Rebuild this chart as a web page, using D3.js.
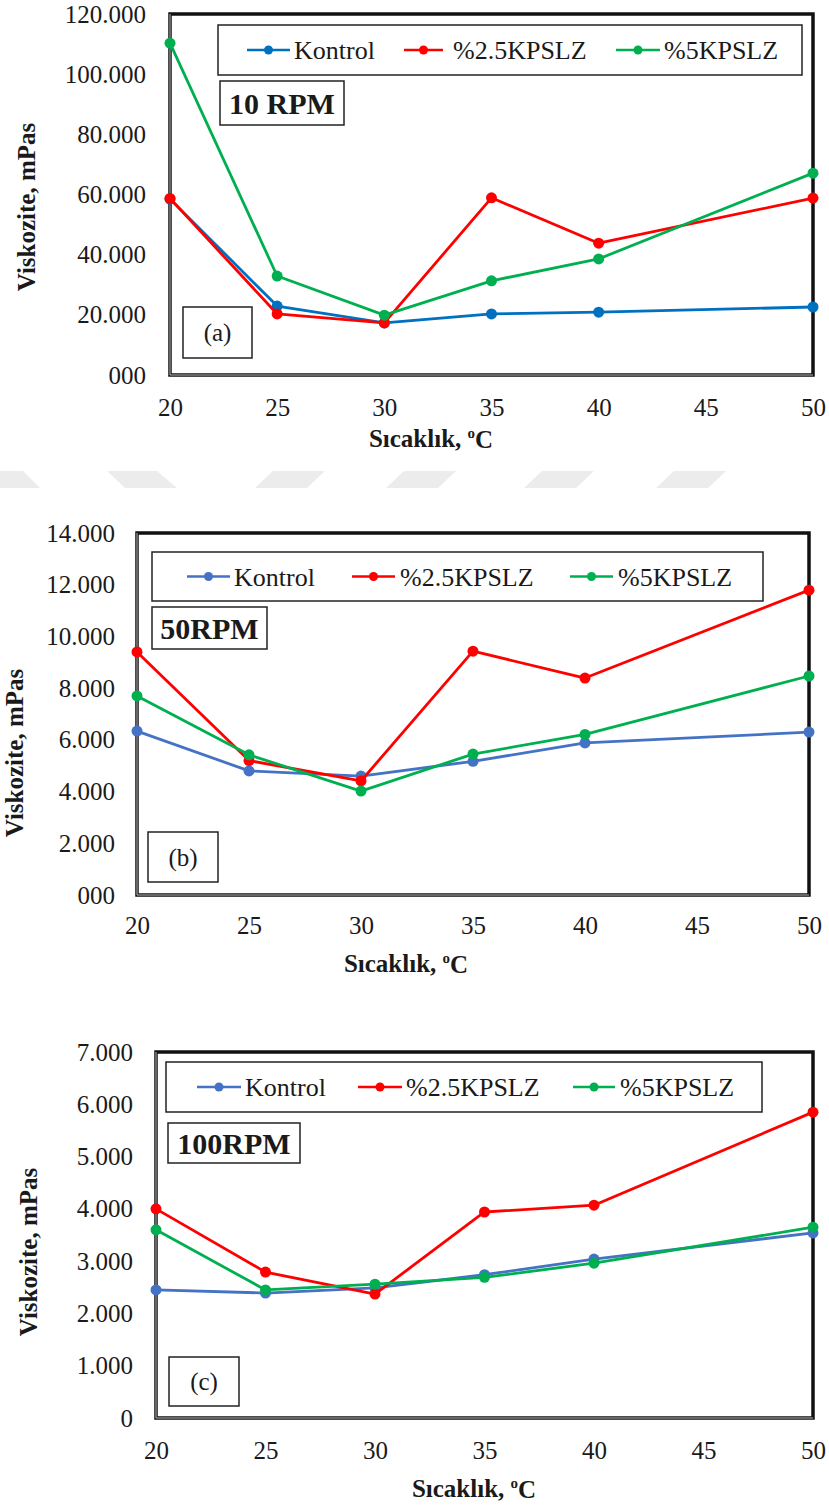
<!DOCTYPE html>
<html>
<head>
<meta charset="utf-8">
<script src="https://cdn.jsdelivr.net/npm/d3@7"></script>
<style>
  html, body { margin: 0; padding: 0; background: #fff; }
  svg { display: block; }
  svg text { font-family: "Liberation Serif", "Times New Roman", Times, Tinos, "DejaVu Serif", serif !important; fill: #1a1a1a; }
</style>
</head>
<body>
<svg id="chart" width="829" height="1508"></svg>
<script>
// Temperatures (°C) at which viscosity was measured
const temps = [20, 25, 30, 35, 40, 50];
const xTicks = [20, 25, 30, 35, 40, 45, 50];
const seriesNames = ["Kontrol", "%2.5KPSLZ", "%5KPSLZ"];

// 10 RPM viscosity, mPas
const kontrol10 = [58500, 22900, 17300, 20300, 20900, 22600];
const kpslz25_10 = [58700, 20300, 17300, 58900, 43800, 58800];
const kpslz5_10 = [110300, 32900, 19900, 31300, 38600, 67100];
const yTicks10 = [0, 20000, 40000, 60000, 80000, 100000, 120000];
const yLabels10 = ["000", "20.000", "40.000", "60.000", "80.000", "100.000", "120.000"];

// 50 RPM viscosity, mPas
const kontrol50 = [6340, 4800, 4600, 5170, 5880, 6300];
const kpslz25_50 = [9400, 5200, 4410, 9430, 8390, 11790];
const kpslz5_50 = [7700, 5420, 4020, 5450, 6210, 8470];
const yTicks50 = [0, 2000, 4000, 6000, 8000, 10000, 12000, 14000];
const yLabels50 = ["000", "2.000", "4.000", "6.000", "8.000", "10.000", "12.000", "14.000"];

// 100 RPM viscosity, mPas
const kontrol100 = [2450, 2390, 2490, 2740, 3040, 3540];
const kpslz25_100 = [4000, 2790, 2370, 3940, 4070, 5850];
const kpslz5_100 = [3600, 2450, 2560, 2690, 2960, 3650];
const yTicks100 = [0, 1000, 2000, 3000, 4000, 5000, 6000, 7000];
const yLabels100 = ["0", "1.000", "2.000", "3.000", "4.000", "5.000", "6.000", "7.000"];

const RED = "#FF0000", GREEN = "#00B050";
const FONT = '"Liberation Serif", "Times New Roman", Times, Tinos, "DejaVu Serif", serif';

const panels = [
  {
    series: [kontrol10, kpslz25_10, kpslz5_10],
    colors: ["#0070C0", RED, GREEN],
    yTicks: yTicks10, yLabels: yLabels10,
    frame: { left: 170, right: 813, top: 14, bottom: 375 },
    yLabelX: 146, xLabelY: 407,
    yTitle: { x: 26, y: 207 }, xTitle: { x: 431, y: 438 },
    legend: { x: 218, y: 25, w: 584, h: 50, items: [[247, 290, 294], [404, 443, 453], [616, 660, 664]] },
    rpm: { x: 220, y: 81, w: 124, h: 44, text: "10 RPM" },
    tag: { x: 183, y: 307, w: 69, h: 51, text: "(a)" }
  },
  {
    series: [kontrol50, kpslz25_50, kpslz5_50],
    colors: ["#4472C4", RED, GREEN],
    yTicks: yTicks50, yLabels: yLabels50,
    frame: { left: 137, right: 809, top: 533, bottom: 895 },
    yLabelX: 115, xLabelY: 925,
    yTitle: { x: 14, y: 753 }, xTitle: { x: 406, y: 963 },
    legend: { x: 152, y: 552, w: 611, h: 49, items: [[187, 230, 234], [352, 395, 400], [570, 613, 618]] },
    rpm: { x: 152, y: 607, w: 115, h: 42, text: "50RPM" },
    tag: { x: 148, y: 832, w: 70, h: 50, text: "(b)" }
  },
  {
    series: [kontrol100, kpslz25_100, kpslz5_100],
    colors: ["#4472C4", RED, GREEN],
    yTicks: yTicks100, yLabels: yLabels100,
    frame: { left: 156, right: 813, top: 1052, bottom: 1418 },
    yLabelX: 133, xLabelY: 1450,
    yTitle: { x: 28, y: 1252 }, xTitle: { x: 474, y: 1488 },
    legend: { x: 166, y: 1062, w: 596, h: 50, items: [[197, 241, 245], [358, 402, 406], [573, 615, 620]] },
    rpm: { x: 168, y: 1123, w: 132, h: 40, text: "100RPM" },
    tag: { x: 169, y: 1357, w: 70, h: 49, text: "(c)" }
  }
];

const svg = d3.select("#chart");

// faint striped band between the first and second panels
const band = svg.append("g").attr("fill", "#ececec");
const bandTop = 471, bandBot = 488;
band.append("polygon").attr("points", `0,${bandTop} 23,${bandTop} 40,${bandBot} 0,${bandBot}`);
band.append("polygon").attr("points", `107,${bandTop} 157,${bandTop} 177,${bandBot} 125,${bandBot}`);
[255, 386, 524, 656].forEach(x0 => {
  band.append("polygon").attr("points",
    `${x0 + 18},${bandTop} ${x0 + 70},${bandTop} ${x0 + 52},${bandBot} ${x0},${bandBot}`);
});

panels.forEach(p => {
  const f = p.frame;
  const x = d3.scaleLinear().domain([20, 50]).range([f.left, f.right]);
  const y = d3.scaleLinear().domain([0, d3.max(p.yTicks)]).range([f.bottom, f.top]);
  const g = svg.append("g").attr("font-family", FONT);

  // plot area border
  g.append("rect")
    .attr("x", f.left).attr("y", f.top)
    .attr("width", f.right - f.left).attr("height", f.bottom - f.top)
    .attr("fill", "none").attr("stroke", "#111").attr("stroke-width", 3.5);
  g.append("path")
    .attr("d", `M${f.left},${f.top} V${f.bottom} H${f.right}`)
    .attr("fill", "none").attr("stroke", "#bdbdbd").attr("stroke-width", 1);

  // y axis labels
  const yAxis = g.append("g")
    .attr("transform", `translate(${p.yLabelX},0)`)
    .call(d3.axisLeft(y).tickValues(p.yTicks)
      .tickFormat((d, i) => p.yLabels[i]).tickSize(0).tickPadding(0));
  yAxis.attr("font-family", FONT).attr("font-size", 25);
  yAxis.select(".domain").remove();
  yAxis.selectAll("text").attr("fill", "#1a1a1a");

  // x axis labels
  const xAxis = g.append("g")
    .attr("transform", `translate(0,${p.xLabelY})`)
    .call(d3.axisBottom(x).tickValues(xTicks).tickSize(0).tickPadding(0));
  xAxis.attr("font-family", FONT).attr("font-size", 25);
  xAxis.select(".domain").remove();
  xAxis.selectAll("text").attr("dy", "0.35em").attr("y", 0).attr("fill", "#1a1a1a");

  // axis titles
  g.append("text")
    .attr("transform", `translate(${p.yTitle.x},${p.yTitle.y}) rotate(-90)`)
    .attr("text-anchor", "middle").attr("dy", "0.35em")
    .attr("font-size", 25).attr("font-weight", "bold")
    .text("Viskozite, mPas");
  const xt = g.append("text")
    .attr("x", p.xTitle.x).attr("y", p.xTitle.y).attr("dy", "0.35em")
    .attr("text-anchor", "middle")
    .attr("font-size", 25).attr("font-weight", "bold");
  xt.append("tspan").text("Sıcaklık, ");
  xt.append("tspan").attr("font-size", 15).attr("dy", "-0.6em").text("o");
  xt.append("tspan").attr("dy", "0.42em").text("C");

  // speed label
  g.append("rect")
    .attr("x", p.rpm.x).attr("y", p.rpm.y).attr("width", p.rpm.w).attr("height", p.rpm.h)
    .attr("fill", "#fff").attr("stroke", "#222").attr("stroke-width", 1.5);
  g.append("text")
    .attr("x", p.rpm.x + p.rpm.w / 2).attr("y", p.rpm.y + p.rpm.h / 2).attr("dy", "0.35em")
    .attr("text-anchor", "middle").attr("font-size", 30).attr("font-weight", "bold")
    .attr("fill", "#000").text(p.rpm.text);

  // panel tag
  g.append("rect")
    .attr("x", p.tag.x).attr("y", p.tag.y).attr("width", p.tag.w).attr("height", p.tag.h)
    .attr("fill", "#fff").attr("stroke", "#222").attr("stroke-width", 1.5);
  g.append("text")
    .attr("x", p.tag.x + p.tag.w / 2).attr("y", p.tag.y + p.tag.h / 2).attr("dy", "0.35em")
    .attr("text-anchor", "middle").attr("font-size", 25).text(p.tag.text);

  // legend
  const L = p.legend;
  g.append("rect")
    .attr("x", L.x).attr("y", L.y).attr("width", L.w).attr("height", L.h)
    .attr("fill", "#fff").attr("stroke", "#222").attr("stroke-width", 1.5);
  const ly = L.y + L.h / 2;
  seriesNames.forEach((name, i) => {
    const [x0, x1, tx] = L.items[i];
    g.append("line").attr("x1", x0).attr("x2", x1).attr("y1", ly).attr("y2", ly)
      .attr("stroke", p.colors[i]).attr("stroke-width", 2.5);
    g.append("circle").attr("cx", (x0 + x1) / 2).attr("cy", ly).attr("r", 4.5)
      .attr("fill", p.colors[i]);
    g.append("text").attr("x", tx).attr("y", ly).attr("dy", "0.35em")
      .attr("font-size", 26).text(name);
  });

  // series lines and markers
  const line = d3.line().x((d, i) => x(temps[i])).y(d => y(d));
  p.series.forEach((vals, si) => {
    const sg = g.append("g");
    sg.append("path").datum(vals).attr("d", line)
      .attr("fill", "none").attr("stroke", p.colors[si]).attr("stroke-width", 2.8)
      .attr("stroke-linejoin", "round");
    sg.selectAll("circle").data(vals).join("circle")
      .attr("cx", (d, i) => x(temps[i])).attr("cy", d => y(d)).attr("r", 5.5)
      .attr("fill", p.colors[si]);
  });
});
</script>
</body>
</html>
